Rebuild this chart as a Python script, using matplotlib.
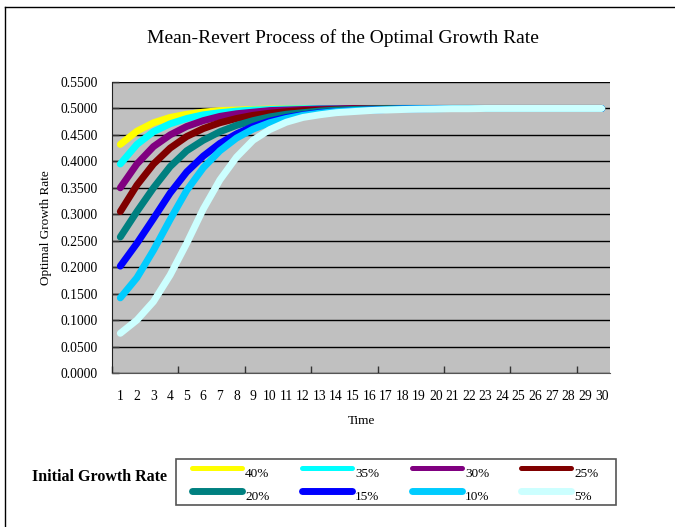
import matplotlib
matplotlib.use('Agg')
import matplotlib.pyplot as plt
from matplotlib.lines import Line2D
from matplotlib.patches import Rectangle

plt.rcParams['font.family'] = ['Liberation Serif', 'DejaVu Serif']

# time axis
tid = list(range(1, 31))

# (optimal growth rate per period)
g40 = [0.432, 0.457, 0.473, 0.483, 0.489, 0.493, 0.496, 0.497, 0.498, 0.499,
       0.4995, 0.5, 0.5, 0.5, 0.5, 0.5, 0.5, 0.5, 0.5, 0.5,
       0.5, 0.5, 0.5, 0.5, 0.5, 0.5, 0.5, 0.5, 0.5, 0.5]
g35 = [0.395, 0.432, 0.456, 0.471, 0.481, 0.488, 0.492, 0.495, 0.497, 0.498,
       0.499, 0.4995, 0.5, 0.5, 0.5, 0.5, 0.5, 0.5, 0.5, 0.5,
       0.5, 0.5, 0.5, 0.5, 0.5, 0.5, 0.5, 0.5, 0.5, 0.5]
g30 = [0.350, 0.395, 0.428, 0.450, 0.466, 0.477, 0.485, 0.490, 0.493, 0.496,
       0.497, 0.498, 0.499, 0.4995, 0.5, 0.5, 0.5, 0.5, 0.5, 0.5,
       0.5, 0.5, 0.5, 0.5, 0.5, 0.5, 0.5, 0.5, 0.5, 0.5]
g25 = [0.305, 0.355, 0.395, 0.425, 0.447, 0.462, 0.473, 0.481, 0.487, 0.491,
       0.494, 0.496, 0.497, 0.498, 0.499, 0.4995, 0.5, 0.5, 0.5, 0.5,
       0.5, 0.5, 0.5, 0.5, 0.5, 0.5, 0.5, 0.5, 0.5, 0.5]
g20 = [0.257, 0.305, 0.350, 0.390, 0.420, 0.440, 0.456, 0.468, 0.477, 0.484,
       0.489, 0.492, 0.495, 0.497, 0.498, 0.499, 0.4995, 0.5, 0.5, 0.5,
       0.5, 0.5, 0.5, 0.5, 0.5, 0.5, 0.5, 0.5, 0.5, 0.5]
g15 = [0.202, 0.245, 0.292, 0.340, 0.380, 0.410, 0.434, 0.452, 0.466, 0.476,
       0.483, 0.488, 0.492, 0.494, 0.496, 0.497, 0.498, 0.499, 0.4995, 0.5,
       0.5, 0.5, 0.5, 0.5, 0.5, 0.5, 0.5, 0.5, 0.5, 0.5]
g10 = [0.142, 0.180, 0.232, 0.290, 0.345, 0.388, 0.420, 0.444, 0.461, 0.473,
       0.481, 0.487, 0.491, 0.494, 0.496, 0.497, 0.498, 0.499, 0.4995, 0.4995,
       0.5, 0.5, 0.5, 0.5, 0.5, 0.5, 0.5, 0.5, 0.5, 0.5]
g05 = [0.075, 0.100, 0.135, 0.185, 0.245, 0.310, 0.365, 0.408, 0.440, 0.460,
       0.474, 0.483, 0.488, 0.492, 0.494, 0.496, 0.497, 0.498, 0.4985, 0.499,
       0.4995, 0.4995, 0.5, 0.5, 0.5, 0.5, 0.5, 0.5, 0.5, 0.5]

serier = [g40, g35, g30, g25, g20, g15, g10, g05]
labels = ['40%', '35%', '30%', '25%', '20%', '15%', '10%', '5%']
colors = ['#FFFF00', '#00FFFF', '#800080', '#800000',
          '#008080', '#0000FF', '#00CCFF', '#CCFFFF']
yticks = [i * 0.05 for i in range(12)]

W, H = 675, 527
fig = plt.figure(figsize=(W / 100, H / 100), dpi=100)
fig.patch.set_facecolor('white')

# plot area in pixels: x 112..610, y 82..373
ax = fig.add_axes([112 / W, 1 - 373 / H, 498 / W, 291 / H])
ax.set_facecolor('#C0C0C0')

for i in range(len(serier)):
    ax.plot(tid, serier[i], color=colors[i], lw=5, solid_capstyle='round',
            solid_joinstyle='round', zorder=3)

ax.set_xlim(0.5, 30.5)
ax.set_ylim(0, 0.55)
ax.set_yticks(yticks)
ax.set_yticklabels(['%.4f' % v for v in yticks])
ax.yaxis.grid(True, color='black', lw=1)
ax.set_axisbelow(True)

# major ticks between categories every 4, labels on each category
ax.set_xticks([0.5 + 4 * k for k in range(8)])
ax.set_xticklabels([])
ax.set_xticks(tid, minor=True)
ax.set_xticklabels([str(t) for t in tid], minor=True)
ax.tick_params(axis='x', which='major', direction='in', length=5, width=1, color='#333333')
ax.tick_params(axis='x', which='minor', length=0, pad=12, labelsize=9.8)
ax.tick_params(axis='y', direction='in', length=5, width=1, color='#333333', labelsize=9.8, pad=10)

for s in ['top', 'right']:
    ax.spines[s].set_visible(False)
ax.spines['left'].set_color('#222222')
ax.spines['bottom'].set_color('#555555')

ax.set_xlabel('Time', fontsize=9.5, labelpad=9)
ax.set_ylabel('Optimal Growth Rate', fontsize=9.5, labelpad=6)

fig.text(343 / W, 1 - 38 / H, 'Mean-Revert Process of the Optimal Growth Rate',
         ha='center', va='center', fontsize=14)

# legend area, drawn in pixel coordinates
lg = fig.add_axes([0, 0, 1, 1], zorder=5)
lg.set_xlim(0, W)
lg.set_ylim(H, 0)
lg.axis('off')
lg.patch.set_alpha(0)

lg.text(32, 477, 'Initial Growth Rate', fontsize=11.5, fontweight='bold',
        ha='left', va='center')
lg.add_patch(Rectangle((176, 459), 440, 46, fill=False, ec='#555555', lw=1.2))

col_x = [190, 300, 410, 519]
row_y = [468, 491]
row_lw = [3.6, 5]
for i in range(len(labels)):
    r, c = divmod(i, 4)
    x0 = col_x[c]
    lg.add_line(Line2D([x0 + 2, x0 + 52], [row_y[r], row_y[r]], color=colors[i],
                       lw=row_lw[r], solid_capstyle='round'))
    lg.text(x0 + 55, row_y[r] + 6, labels[i], fontsize=9.5, ha='left', va='center')

# outer frame (top and left)
lg.add_line(Line2D([5, W], [7, 7], color='black', lw=1))
lg.add_line(Line2D([5, 5], [7, H], color='black', lw=1))

fig.savefig('out.png', dpi=100)
